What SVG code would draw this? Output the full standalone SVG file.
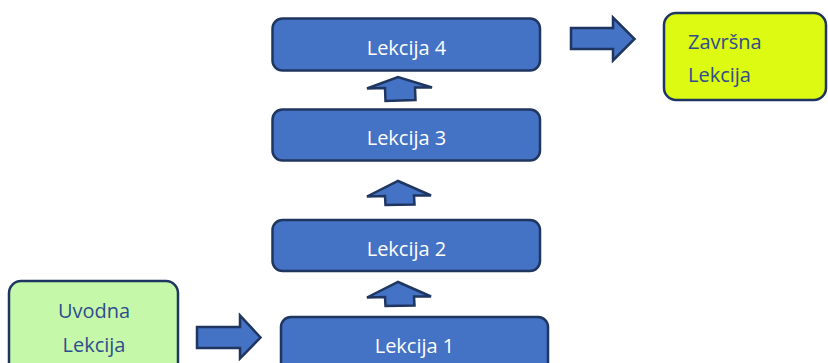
<svg xmlns="http://www.w3.org/2000/svg" width="828" height="363" viewBox="0 0 828 363">
<style>
.box{fill:#4472C4;stroke:#1F3660;stroke-width:2.5}
.arr{fill:#4472C4;stroke:#1F3660;stroke-width:2.5;stroke-linejoin:miter}
.wt{font-family:"Open Sans","DejaVu Sans",sans-serif;font-size:20px;fill:#FFFFFF;text-anchor:middle}
.bt{font-family:"Open Sans","DejaVu Sans",sans-serif;font-size:20px;fill:#2F4C8E}
</style>
<rect width="828" height="363" fill="#FFFFFF"/>
<g id="uvodna">
<rect x="9" y="281" width="169" height="100" rx="12" fill="#C5F9A9" stroke="#1F3660" stroke-width="2.5"/>
<text class="bt" x="94" y="318" text-anchor="middle">Uvodna</text>
<text class="bt" x="94" y="352" text-anchor="middle">Lekcija</text>
</g>
<g id="lekcija1">
<rect class="box" x="281" y="317" width="267" height="60" rx="10"/>
<text class="wt" x="414.5" y="353">Lekcija 1</text>
</g>
<g id="lekcija2">
<rect class="box" x="272.5" y="220" width="267.5" height="51" rx="10"/>
<text class="wt" x="406.5" y="256">Lekcija 2</text>
</g>
<g id="lekcija3">
<rect class="box" x="272.5" y="109.5" width="267.5" height="51" rx="10"/>
<text class="wt" x="406.5" y="145">Lekcija 3</text>
</g>
<g id="lekcija4">
<rect class="box" x="272.5" y="18.5" width="267.5" height="52" rx="10"/>
<text class="wt" x="406.5" y="55">Lekcija 4</text>
</g>
<g id="zavrsna">
<rect x="664" y="13" width="162" height="87" rx="12" fill="#DCFA12" stroke="#1F3660" stroke-width="2.5"/>
<text class="bt" x="688" y="49">Završna</text>
<text class="bt" x="688" y="82">Lekcija</text>
</g>
<g id="connectors">
<polygon class="arr" points="197,327 240,327 240,315.5 260.5,337.5 240,358.5 240,348 197,348"/>
<polygon class="arr" points="385.5,306 385,297 367,297.5 398,282 431,296.5 414,296.5 414.5,305.5"/>
<polygon class="arr" points="385.5,205 385,196 367,196.5 398,181 431,195.5 414,195.5 414.5,204.5"/>
<polygon class="arr" points="385.5,101 385,88 367,88.5 398,77 432,87.5 415,87.5 415.5,100"/>
<polygon class="arr" points="571,28 613,28 613,17.5 634.5,39 613,60.5 613,49 571,49"/>
</g>
</svg>
